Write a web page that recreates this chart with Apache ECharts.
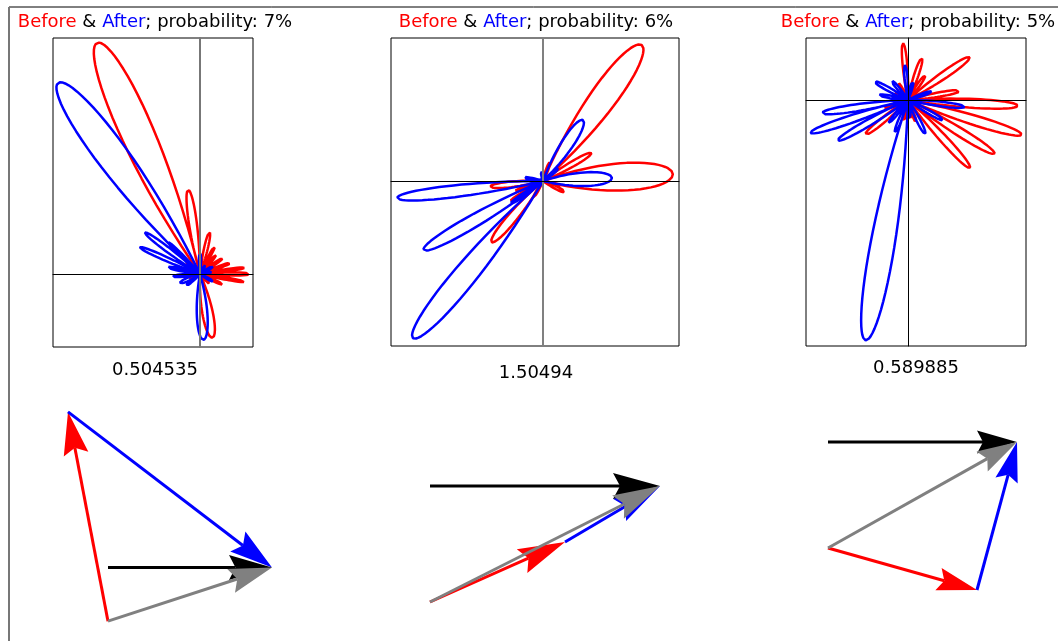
<!DOCTYPE html>
<html>
<head>
<meta charset="utf-8">
<script src="https://cdn.jsdelivr.net/npm/echarts@6/dist/echarts.min.js"></script>
<style>
  html, body { margin: 0; padding: 0; background: #fff; }
  #chart { width: 1058px; height: 641px; }
</style>
</head>
<body>
<div id="chart"></div>
<script>
// Radiation-pattern lobes: [direction in degrees, lobe length, half-spread in degrees]
const p1Before = [[114,253,10.5],[98,85,7.5],[-79,65,13],[0,50,5],[8,45,4],[-10,45,4],[20,33,5],[35,28,6],
  [50,25,6],[62,32,5],[77,43,7],[-25,25,6],[-45,15,7],[140,18,9],[160,12,9],[200,12,12]];
const p1After = [[126.6,238,10.5],[143,69,5.5],[156,66,5],[135,45,5],[168,34,6],[185,28,7],[204,22,12],
  [220,18,9],[-87,66,13],[90,21,8],[10,12,9],[30,15,9],[-30,15,9],[60,10,12]];

const p2Before = [[54,168,12.5],[3,130,17],[30,56,7.5],[186,53,8.5],[230,80,9.5],[212,39,6],[200,30,6],
  [-27,25,9],[-15,20,7],[240,20,7],[70,20,9]];
const p2After = [[230.4,204,9],[186.6,147,6.5],[210,138,7.5],[56.7,73,13],[2.5,69,16],[170,20,9],
  [40,20,9],[215,40,6],[100,10,12]];

const p3Before = [[95,57,6.5],[71.6,44,8],[55,30,8],[34.7,75,7.5],[10,53,6.5],[-3,110,6.5],[-17,119,6.5],
  [-31.8,102,6.5],[-47.6,92,6.5],[-70,25,7],[219,55,7.5],[257,22,9],[280,20,9],[200,25,7],[120,20,9],[150,15,9]];
const p3After = [[260,244,8],[188.6,87,6.5],[198.6,103,6],[210,81,6.5],[151,38,8],[170,30,7],[130,25,9],
  [95,35,7],[75,20,9],[20,25,8],[-7,57,6.5],[-30,40,7],[-63,38,8],[-85,20,9],[248,35,7],[230,30,7]];

const panelTitles = ['7%', '6%', '5%'];
const panelValues = ['0.504535', '1.50494', '0.589885'];

// Phasor diagrams: red = before, blue = after change (tip-to-tail), grey = resultant
const phasorBefore = [[-0.40, 2.11], [1.35, 0.60], [1.49, -0.42]];
const phasorChange = [[2.04, -1.57], [0.95, 0.56], [0.40, 1.48]];

const FONT = 'DejaVu Sans';

// Trace each lobe as a closed loop through the origin
function lobeLoop(lobes) {
  const pts = [];
  const sorted = lobes.slice().sort((a, b) => a[0] - b[0]);
  const N = 48;
  sorted.forEach(([dir, len, spread]) => {
    const phi = dir * Math.PI / 180, w = spread * Math.PI / 180;
    for (let k = 0; k <= N; k++) {
      const t = -w + 2 * w * k / N;
      const r = len * Math.cos(Math.PI * t / (2 * w));
      pts.push([r * Math.cos(phi + t), r * Math.sin(phi + t)]);
    }
  });
  return pts;
}

const topBoxes = [
  { left: 53, top: 38, width: 200, height: 309, x: [-147, 53], y: [-73, 236], vColor: '#777', vWidth: 2, cx: 155, vy: 360 },
  { left: 391, top: 38, width: 288, height: 308, x: [-152, 136], y: [-165, 143], vColor: '#808080', vWidth: 2, cx: 536, vy: 363 },
  { left: 806, top: 38, width: 220, height: 308, x: [-102, 118], y: [-246, 62], vColor: '#000', vWidth: 1, cx: 916, vy: 358 }
];
const titleCenters = [155, 536, 918];

const botBoxes = [
  { left: 58, top: 403, width: 250, height: 240, x: [-0.5, 2.0], y: [-0.2, 2.2], head: [43, 25] },
  { left: 410, top: 442, width: 270, height: 180, x: [-0.2, 2.5], y: [-0.2, 1.6], head: [47, 26] },
  { left: 808, top: 408, width: 240, height: 200, x: [-0.2, 2.2], y: [-0.6, 1.4], head: [40, 23] }
];

const lobeData = [[p1Before, p1After], [p2Before, p2After], [p3Before, p3After]];

const grid = [], xAxis = [], yAxis = [], series = [], title = [];

topBoxes.forEach((b, i) => {
  grid.push({ left: b.left, top: b.top, width: b.width, height: b.height, show: true,
    borderColor: '#000', borderWidth: 1, backgroundColor: 'transparent' });
  xAxis.push({ type: 'value', gridIndex: i, min: b.x[0], max: b.x[1], z: 5,
    axisLine: { onZero: true, lineStyle: { color: '#000', width: 1 } },
    axisTick: { show: false }, axisLabel: { show: false }, splitLine: { show: false } });
  yAxis.push({ type: 'value', gridIndex: i, min: b.y[0], max: b.y[1], z: 5,
    axisLine: { onZero: true, lineStyle: { color: b.vColor, width: b.vWidth } },
    axisTick: { show: false }, axisLabel: { show: false }, splitLine: { show: false } });
  const [before, after] = lobeData[i];
  [[before, '#ff0000'], [after, '#0000ff']].forEach(([lobes, color]) => {
    series.push({ type: 'line', xAxisIndex: i, yAxisIndex: i, data: lobeLoop(lobes),
      showSymbol: false, symbol: 'none', silent: true, clip: true,
      lineStyle: { color, width: 2.5 }, z: 2 });
  });
  title.push({
    text: '{r|Before} & {b|After}; probability: ' + panelTitles[i],
    left: titleCenters[i], top: 12, textAlign: 'center', padding: 0,
    textStyle: { fontFamily: FONT, fontSize: 18, fontWeight: 'normal', color: '#000', lineHeight: 20,
      rich: { r: { color: '#ff0000', fontFamily: FONT, fontSize: 18, lineHeight: 20 },
              b: { color: '#0000ff', fontFamily: FONT, fontSize: 18, lineHeight: 20 } } }
  });
  title.push({
    text: panelValues[i], left: b.cx, top: b.vy, textAlign: 'center', padding: 0,
    textStyle: { fontFamily: FONT, fontSize: 18, fontWeight: 'normal', color: '#000', lineHeight: 20 }
  });
});

function arrowItem(headLen, headW) {
  return function (params, api) {
    const p0 = api.coord([api.value(0), api.value(1)]);
    const p1 = api.coord([api.value(2), api.value(3)]);
    const dx = p1[0] - p0[0], dy = p1[1] - p0[1];
    const len = Math.hypot(dx, dy) || 1;
    const ux = dx / len, uy = dy / len, nx = -uy, ny = ux;
    const bx = p1[0] - ux * headLen, by = p1[1] - uy * headLen;
    const mx = p1[0] - ux * headLen * 0.85, my = p1[1] - uy * headLen * 0.85;
    const color = api.visual('color');
    return {
      type: 'group',
      children: [
        { type: 'line', shape: { x1: p0[0], y1: p0[1], x2: mx, y2: my },
          style: { stroke: color, lineWidth: 3 } },
        { type: 'polygon', shape: { points: [[p1[0], p1[1]],
            [bx + nx * headW / 2, by + ny * headW / 2], [mx, my],
            [bx - nx * headW / 2, by - ny * headW / 2]] },
          style: { fill: color } }
      ]
    };
  };
}

botBoxes.forEach((b, k) => {
  const gi = 3 + k;
  grid.push({ left: b.left, top: b.top, width: b.width, height: b.height, show: false });
  xAxis.push({ type: 'value', gridIndex: gi, min: b.x[0], max: b.x[1], show: false });
  yAxis.push({ type: 'value', gridIndex: gi, min: b.y[0], max: b.y[1], show: false });
  const r = phasorBefore[k], c = phasorChange[k];
  const sx = r[0] + c[0], sy = r[1] + c[1];
  const arrows = [
    ['#ff0000', [0, 0, r[0], r[1]]],
    ['#0000ff', [r[0], r[1], sx, sy]],
    ['#000000', [0, sy, sx, sy]],
    ['#808080', [0, 0, sx, sy]]
  ];
  arrows.forEach(([color, seg]) => {
    series.push({ type: 'custom', xAxisIndex: gi, yAxisIndex: gi, silent: true,
      renderItem: arrowItem(b.head[0], b.head[1]),
      encode: { x: [0, 2], y: [1, 3] },
      itemStyle: { color }, data: [seg] });
  });
});

const chart = echarts.init(document.getElementById('chart'), null, { renderer: 'canvas' });
chart.setOption({
  animation: false,
  backgroundColor: '#fff',
  title, grid, xAxis, yAxis, series,
  graphic: [
    { type: 'line', shape: { x1: 9, y1: 7, x2: 1058, y2: 7 }, style: { stroke: '#000', lineWidth: 1 } },
    { type: 'line', shape: { x1: 9, y1: 7, x2: 9, y2: 641 }, style: { stroke: '#777', lineWidth: 2 } }
  ]
});
</script>
</body>
</html>
